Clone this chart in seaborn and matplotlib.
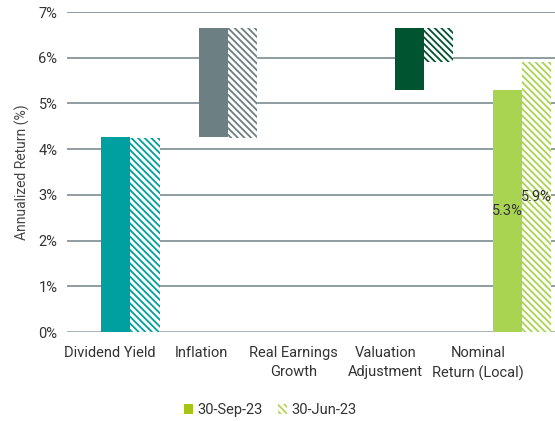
import numpy as np
import pandas as pd
import matplotlib
matplotlib.use("Agg")
import matplotlib.pyplot as plt
import seaborn as sns
from matplotlib.patches import Patch

# ── data ───────────────────────────────────────────────────────
categories = ["Dividend Yield", "Inflation", "Real Earnings\nGrowth",
              "Valuation\nAdjustment", "Nominal\nReturn (Local)"]
colors = ["#00A0A0", "#6C7F83", "#6C7F83", "#00542F", "#A9D452"]

# waterfall steps (%)
sep_steps = [4.27, 2.38, 0.0, -1.35, 5.30]
jun_steps = [4.25, 2.40, 0.0, -0.75, 5.90]
is_total = [False, False, False, False, True]

series = ["30-Sep-23", "30-Jun-23"]


def waterfall(steps, total_flags):
    bottoms, heights = [], []
    run = 0.0
    for s, tot in zip(steps, total_flags):
        if tot:
            bottoms.append(0.0); heights.append(s)
        elif s >= 0:
            bottoms.append(run); heights.append(s); run += s
        else:
            bottoms.append(run + s); heights.append(-s); run += s
    return np.array(bottoms), np.array(heights)


sep_bot, sep_h = waterfall(sep_steps, is_total)
jun_bot, jun_h = waterfall(jun_steps, is_total)

# ── style ──────────────────────────────────────────────────────
sns.set_theme(style="white")
plt.rcParams["font.family"] = ["Roboto", "DejaVu Sans"]
plt.rcParams["hatch.linewidth"] = 1.3

HATCH = "\\\\\\\\\\"

fig = plt.figure(figsize=(5.55, 4.21), dpi=100)
ax = fig.add_axes([0.121, 0.2114, 0.879, 0.76])

idx = np.arange(len(categories))
bw = 0.30
grid_col = "#8E9CA0"

for y in range(0, 8):
    ax.axhline(y, color=grid_col, lw=1.4 if y else 1.8, zorder=0)

# solid bars (30-Sep-23)
df_sep = pd.DataFrame({"x": idx - bw / 2, "h": sep_h})
sns.barplot(data=df_sep, x="x", y="h", native_scale=True, orient="x",
            width=bw, bottom=sep_bot, errorbar=None, ax=ax,
            color=colors[0], linewidth=0, zorder=2)
n_sep = len(ax.patches)
for p, c in zip(ax.patches[:n_sep], colors):
    p.set_facecolor(c)
    p.set_edgecolor(c)

# hatched bars (30-Jun-23)
df_jun = pd.DataFrame({"x": idx + bw / 2, "h": jun_h})
sns.barplot(data=df_jun, x="x", y="h", native_scale=True, orient="x",
            width=bw, bottom=jun_bot, errorbar=None, ax=ax,
            color="white", linewidth=0, zorder=2)
for p, c in zip(ax.patches[n_sep:], colors):
    p.set_facecolor("white")
    p.set_edgecolor(c)
    p.set_hatch(HATCH)
    p.set_linewidth(0)

# value labels on the total bar
ax.text(idx[-1] - bw / 2, sep_h[-1] / 2, f"{sep_h[-1]:.1f}%", ha="center",
        va="center", fontsize=10.5, color="#333333", zorder=3)
ax.text(idx[-1] + bw / 2, jun_h[-1] / 2, f"{jun_h[-1]:.1f}%", ha="center",
        va="center", fontsize=10.5, color="#333333", zorder=3)

ax.set_xlim(-0.643, 4.337)
ax.set_ylim(0, 7)
ax.set_yticks(range(0, 8))
ax.set_yticklabels([f"{v}%" for v in range(0, 8)], fontsize=10.5, color="#333333")
ax.set_xticks(idx * 0.94 - 0.21)
ax.set_xticklabels(categories, fontsize=10.5, color="#333333", linespacing=1.45)
ax.tick_params(axis="both", length=0)
ax.tick_params(axis="x", pad=10)
ax.tick_params(axis="y", pad=7)
ax.set_xlabel("")
ax.set_ylabel("Annualized Return (%)", fontsize=10, color="#444444", labelpad=6)
sns.despine(ax=ax, left=True, bottom=True)

handles = [
    Patch(facecolor="#A5C516", edgecolor="#A5C516", linewidth=0),
    Patch(facecolor="white", edgecolor="#B3D35A", hatch=HATCH, linewidth=0),
]
fig.legend(handles, series, loc="center", bbox_to_anchor=(0.487, 0.026),
           ncol=2, frameon=False, fontsize=10.5, handlelength=0.6,
           handleheight=0.6, handletextpad=0.3, columnspacing=1.1,
           labelcolor="#333333")

fig.savefig("out.png", dpi=100)
plt.close(fig)
